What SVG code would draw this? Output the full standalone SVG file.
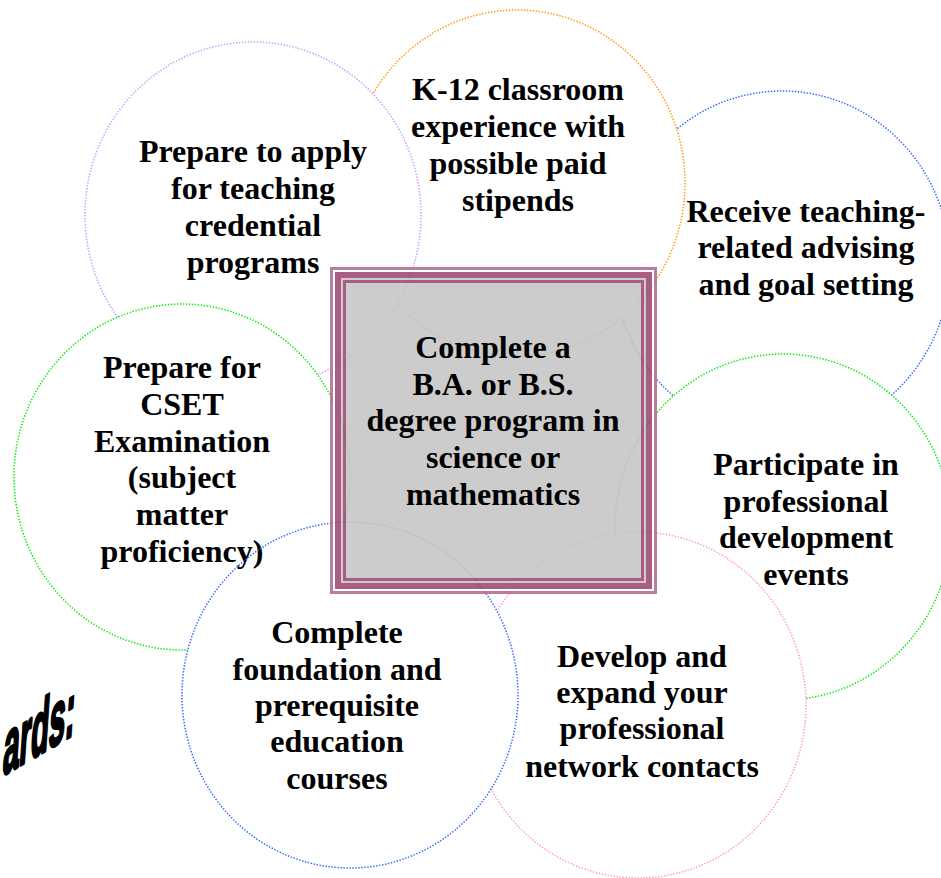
<svg xmlns="http://www.w3.org/2000/svg" width="941" height="878" viewBox="0 0 941 878">
<style>
.ring{fill:none;stroke-width:1.5;stroke-dasharray:1.4 1.6}
.lbl{font-family:"Liberation Serif","Times New Roman",serif;font-weight:bold;font-size:32px;fill:#000;text-anchor:middle}
.frame{fill:none;stroke:#9c4774}
</style>
<defs>
<mask id="m-blueR" maskUnits="userSpaceOnUse" x="0" y="0" width="941" height="878">
<rect x="0" y="0" width="941" height="878" fill="#fff"/>
<ellipse cx="517" cy="183" rx="168" ry="173" fill="#000"/>
<ellipse cx="783" cy="527" rx="168" ry="173" fill="#000"/>
</mask>
<mask id="m-orange" maskUnits="userSpaceOnUse" x="0" y="0" width="941" height="878">
<rect x="0" y="0" width="941" height="878" fill="#fff"/>
<ellipse cx="253" cy="215" rx="168" ry="173" fill="#000"/>
</mask>
<mask id="m-purple" maskUnits="userSpaceOnUse" x="0" y="0" width="941" height="878">
<rect x="0" y="0" width="941" height="878" fill="#fff"/>
<ellipse cx="182" cy="477" rx="168" ry="173" fill="#000"/>
</mask>
<mask id="m-greenL" maskUnits="userSpaceOnUse" x="0" y="0" width="941" height="878">
<rect x="0" y="0" width="941" height="878" fill="#fff"/>
<ellipse cx="350" cy="695" rx="168" ry="173" fill="#000"/>
</mask>
<mask id="m-greenR" maskUnits="userSpaceOnUse" x="0" y="0" width="941" height="878">
<rect x="0" y="0" width="941" height="878" fill="#fff"/>
<ellipse cx="638" cy="705" rx="168" ry="173" fill="#000"/>
</mask>
<mask id="m-pink" maskUnits="userSpaceOnUse" x="0" y="0" width="941" height="878">
<rect x="0" y="0" width="941" height="878" fill="#fff"/>
<ellipse cx="350" cy="695" rx="168" ry="173" fill="#000"/>
</mask>
</defs>
<rect x="0" y="0" width="941" height="878" fill="#fff"/>

<g id="node-advising">
<ellipse class="ring" cx="782" cy="264" rx="168" ry="173" stroke="#3366ff" mask="url(#m-blueR)"/>
<text class="lbl"><tspan x="806" y="222">Receive teaching-</tspan><tspan x="806" y="258">related advising</tspan><tspan x="806" y="295">and goal setting</tspan></text>
</g>

<g id="node-k12">
<ellipse class="ring" cx="517" cy="183" rx="168" ry="173" stroke="#ff9900" mask="url(#m-orange)"/>
<text class="lbl"><tspan x="518" y="100">K-12 classroom</tspan><tspan x="518" y="137">experience with</tspan><tspan x="518" y="174">possible paid</tspan><tspan x="518" y="211">stipends</tspan></text>
</g>

<g id="node-credential">
<ellipse class="ring" cx="253" cy="215" rx="168" ry="173" stroke="#cc99ff" mask="url(#m-purple)"/>
<text class="lbl"><tspan x="253" y="162">Prepare to apply</tspan><tspan x="253" y="199">for teaching</tspan><tspan x="253" y="236">credential</tspan><tspan x="253" y="273">programs</tspan></text>
</g>

<g id="node-cset">
<ellipse class="ring" cx="182" cy="477" rx="168" ry="173" stroke="#00ee00" mask="url(#m-greenL)"/>
<text class="lbl"><tspan x="182" y="378">Prepare for</tspan><tspan x="182" y="415">CSET</tspan><tspan x="182" y="452">Examination</tspan><tspan x="182" y="488">(subject</tspan><tspan x="182" y="525">matter</tspan><tspan x="182" y="562">proficiency)</tspan></text>
</g>

<g id="node-prodev">
<ellipse class="ring" cx="783" cy="527" rx="168" ry="173" stroke="#00ee00" mask="url(#m-greenR)"/>
<text class="lbl"><tspan x="806" y="475">Participate in</tspan><tspan x="806" y="512">professional</tspan><tspan x="806" y="548">development</tspan><tspan x="806" y="585">events</tspan></text>
</g>

<g id="node-network">
<ellipse class="ring" cx="638" cy="705" rx="168" ry="173" stroke="#ff99cc" mask="url(#m-pink)"/>
<text class="lbl"><tspan x="642" y="667">Develop and</tspan><tspan x="642" y="703">expand your</tspan><tspan x="642" y="739">professional</tspan><tspan x="642" y="777">network contacts</tspan></text>
</g>

<g id="node-foundation">
<ellipse class="ring" cx="350" cy="695" rx="168" ry="173" stroke="#3366ff"/>
<text class="lbl"><tspan x="337" y="643">Complete</tspan><tspan x="337" y="680">foundation and</tspan><tspan x="337" y="716">prerequisite</tspan><tspan x="337" y="752">education</tspan><tspan x="337" y="789">courses</tspan></text>
</g>

<g id="node-degree">
<g opacity="0.88">
<rect x="330" y="267" width="327" height="327" fill="#fff"/>
<rect x="335" y="272" width="317" height="317" fill="#c5c5c5"/>
<rect class="frame" x="331.5" y="268.5" width="324" height="324" stroke-width="3" stroke-opacity="0.8"/>
<rect class="frame" x="338" y="275" width="311" height="311" stroke-width="6"/>
<rect class="frame" x="344.5" y="281.5" width="298" height="298" stroke-width="3"/>
</g>
<text class="lbl"><tspan x="493" y="358">Complete a</tspan><tspan x="493" y="395">B.A. or B.S.</tspan><tspan x="493" y="431">degree program in</tspan><tspan x="493" y="468">science or</tspan><tspan x="493" y="505">mathematics</tspan></text>
</g>

<text transform="translate(2,776) skewY(-30) skewX(-4) scale(0.42,1.08)" font-family="Liberation Sans, Arial, sans-serif" font-weight="bold" font-size="70" fill="#000" stroke="#000" stroke-width="3" stroke-linejoin="round">ards:</text>
</svg>
